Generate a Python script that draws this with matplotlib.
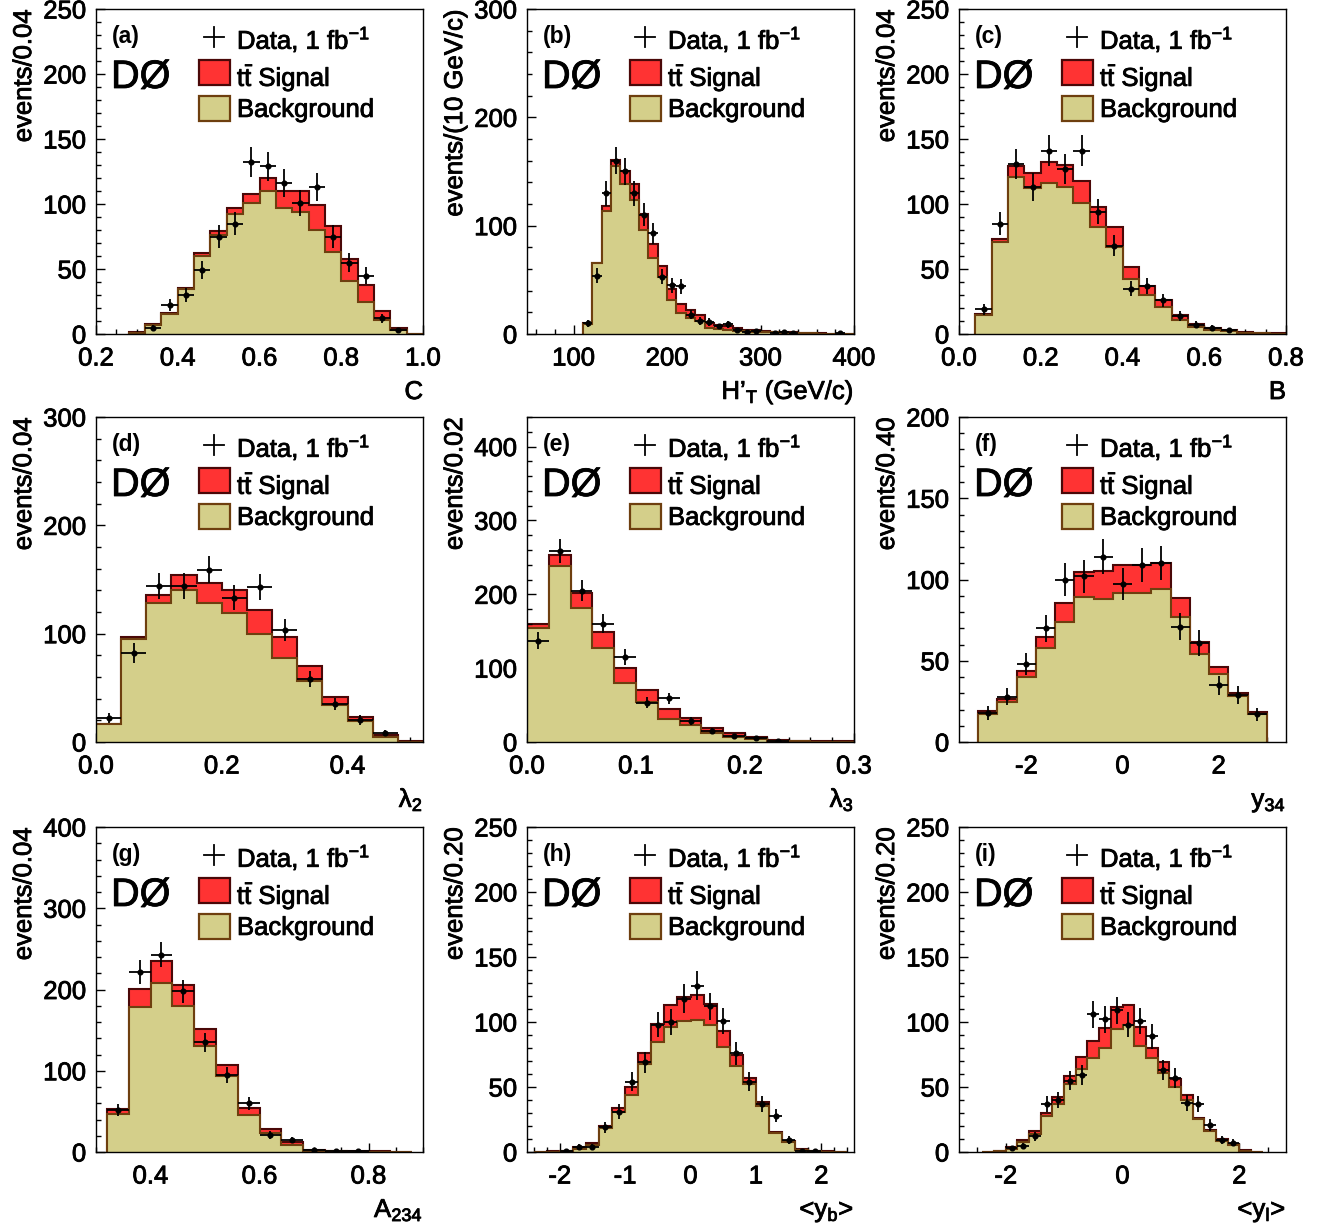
import numpy as np
import matplotlib
matplotlib.use('Agg')
import matplotlib.pyplot as plt
import matplotlib.patheffects as pe
from matplotlib.patches import Rectangle
from matplotlib.ticker import MultipleLocator, FormatStrFormatter

plt.rcParams['font.family'] = ['Liberation Sans', 'DejaVu Sans']
plt.rcParams['mathtext.fontset'] = 'custom'
plt.rcParams['mathtext.rm'] = 'Liberation Sans'
plt.rcParams['mathtext.it'] = 'Liberation Sans:italic'
plt.rcParams['mathtext.bf'] = 'Liberation Sans:bold'
plt.rcParams['axes.unicode_minus'] = False

# ---- (a) C ----
bg_a = [1, 7, 15.5, 35, 60, 76, 92, 101, 110, 97, 94, 80, 63, 41, 25, 10.5, 3, 0]
tot_a = [1.5, 8, 16, 35.5, 62, 79, 97, 108, 120, 110, 110, 99, 83, 58, 38, 17.5, 4.6, 0]
data_a = [0, 5, 22, 30, 49, 75, 85, 132, 129, 116, 101, 113, 75, 55, 45, 12, 3, 0]

# ---- (b) H'T ----
bg_b = [9.5, 65.5, 114, 155.5, 138, 124, 96, 70, 53, 31, 19, 15, 12, 5.5, 4.6, 4, 3,
        2.5, 2, 1.8, 1.5, 1.2, 1.0, 0.8, 0.6, 0.3, 0.3, 0.2, 0.2]
tot_b = [10, 66, 118, 161, 150, 138, 111, 83, 63, 42, 28, 22, 18, 10, 8.6, 7, 5.5,
         4, 3.4, 2.8, 2.2, 1.8, 1.5, 1.2, 1.0, 0.5, 0.4, 0.3, 0.3]
data_b = [10, 54, 130, 160, 150, 130, 110, 93, 53, 45, 44, 18, 12, 11, 7, 9, 4,
          2, 3, 0, 1, 2, 1, 0, 0, 0, 0, 1, 0]

# ---- (c) B ----
bg_c = [15, 70.5, 121, 112, 116, 113, 101, 82, 67, 42, 30, 21, 11, 5.4, 3.3, 2, 1, 0.5, 0.3]
tot_c = [15.4, 73, 129.6, 124, 132, 130, 118, 98, 82, 51.5, 37, 26.4, 15, 7.7, 4.6, 2.8, 1.5, 0.8, 0.5]
data_c = [19, 85, 131, 113, 141, 127, 141, 94, 68, 35, 37, 26, 14, 7, 5, 3, 0, 0, 0]

# ---- (d) lambda2 ----
bg_d = [16.3, 95, 128, 140, 128, 119, 100, 78, 56, 34, 19, 4.6, 0.3]
tot_d = [17, 96.6, 136, 154, 147, 140, 121.5, 97, 70.5, 42, 23, 6.7, 0.5]
data_d = [22, 82, 144, 144, 159, 133, 143, 103, 58, 35, 20, 8, 0]

# ---- (e) lambda3 ----
bg_e = [155, 238.7, 181.5, 126.6, 80, 54, 31.5, 22.5, 12.6, 6.8, 4.5, 1.8, 1, 0.6, 0.5]
tot_e = [160, 253.6, 202, 148.6, 100.5, 71, 45, 32.4, 19, 12, 6.8, 3, 1.5, 1, 0.8]
data_e = [137, 259, 205, 160, 115, 53, 59, 28, 15, 8, 5, 2, 0, 0, 0]

# ---- (f) y34 ----
bg_f = [17, 24.5, 39.7, 57.7, 73.6, 89, 88, 91.6, 91.6, 94, 77, 54, 42, 28.6, 17.4]
tot_f = [18.8, 26.6, 43.6, 64.8, 85.3, 104.7, 105, 108.8, 108.8, 110, 88.8, 61.8, 46, 30, 18.4]
data_f = [18, 28, 48, 70, 100, 102, 114, 97, 109, 110, 71, 61, 35, 29, 17]

# ---- (g) A234 ----
bg_g = [47.3, 178.8, 207.6, 179.6, 130.3, 93.3, 45.2, 23.4, 8.2, 1.6, 1, 0.6, 0.5, 0.3]
tot_g = [53.4, 200.6, 235, 206, 151, 107, 54.3, 28, 12.3, 2.9, 1.5, 1, 0.7, 0.4]
data_g = [52, 222, 243, 198, 135, 95, 60, 21, 15, 3, 1, 1, 0, 0]

# ---- (h) <y_b> ----
bg_h = [0.2, 0.3, 0.8, 2.6, 5.6, 18.5, 30.8, 43.7, 68, 84.8, 95.8, 100.7, 101.5, 97.9,
        80.4, 66.5, 52.2, 35.5, 14.6, 7.7, 1.5, 0.6, 0.3, 0.2]
tot_h = [0.3, 0.4, 1, 3.9, 7, 20, 34, 50, 76.3, 98.4, 112.8, 119.5, 120.5, 113.6,
         93.3, 74.5, 57.3, 38.5, 15.2, 8.7, 2, 0.8, 0.4, 0.3]
data_h = [0, 0, 1, 4, 4, 19, 31, 54, 69, 98, 100, 118, 128, 112, 101, 76, 54, 37,
          28, 9, 1, 1, 0, 0]

# ---- (i) <y_l> ----
bg_i = [0.2, 0.8, 2.6, 7.7, 14, 27.5, 37.3, 52, 63.7, 72.5, 79.7, 94.5, 97.9, 81.7,
        72.5, 61, 50, 40.3, 25.2, 16, 8.5, 5.1, 0.9, 0.2]
tot_i = [0.3, 1, 3.9, 9, 16, 30, 42, 58.6, 73, 85.6, 95.6, 111.8, 113, 96.3, 79.7,
         69.4, 55.8, 44, 26, 16.7, 9.8, 6.4, 1.3, 0.3]
data_i = [0, 0, 3, 5, 12, 37, 40, 55, 59, 106, 102, 109, 98, 101, 89, 63, 57, 38,
          37, 21, 9, 7, 0, 0]

panels = [
    dict(tag='(a)', lo=0.28, w=0.04, bg=bg_a, tot=tot_a, data=data_a, xlim=(0.2, 1.0), ylim=(0, 250),
         xt=(0.2, 0.05), yt=(50, 10), xfmt='%.1f', ylab='events/0.04', xlab='C'),
    dict(tag='(b)', lo=110, w=10, bg=bg_b, tot=tot_b, data=data_b, xlim=(50, 400), ylim=(0, 300),
         xt=(100, 20), yt=(100, 20), xfmt='%d', ylab='events/(10 GeV/c)', xlab='H\u2019$_{\\mathrm{T}}$ (GeV/c)'),
    dict(tag='(c)', lo=0.04, w=0.04, bg=bg_c, tot=tot_c, data=data_c, xlim=(0.0, 0.8), ylim=(0, 250),
         xt=(0.2, 0.05), yt=(50, 10), xfmt='%.1f', ylab='events/0.04', xlab='B'),
    dict(tag='(d)', lo=0.0, w=0.04, bg=bg_d, tot=tot_d, data=data_d, xlim=(0.0, 0.52), ylim=(0, 300),
         xt=(0.2, 0.05), yt=(100, 20), xfmt='%.1f', ylab='events/0.04', xlab='$\\mathrm{λ_{2}}$'),
    dict(tag='(e)', lo=0.0, w=0.02, bg=bg_e, tot=tot_e, data=data_e, xlim=(0.0, 0.3), ylim=(0, 440),
         xt=(0.1, 0.02), yt=(100, 20), xfmt='%.1f', ylab='events/0.02', xlab='$\\mathrm{λ_{3}}$'),
    dict(tag='(f)', lo=-3.0, w=0.4, bg=bg_f, tot=tot_f, data=data_f, xlim=(-3.4, 3.4), ylim=(0, 200),
         xt=(2, 0.5), yt=(50, 10), xfmt='%d', ylab='events/0.40', xlab='$\\mathrm{y_{34}}$'),
    dict(tag='(g)', lo=0.32, w=0.04, bg=bg_g, tot=tot_g, data=data_g, xlim=(0.3, 0.9), ylim=(0, 400),
         xt=(0.2, 0.05), yt=(100, 20), xfmt='%.1f', ylab='events/0.04', xlab='$\\mathrm{A_{234}}$'),
    dict(tag='(h)', lo=-2.4, w=0.2, bg=bg_h, tot=tot_h, data=data_h, xlim=(-2.5, 2.5), ylim=(0, 250),
         xt=(1, 0.2), yt=(50, 10), xfmt='%d', ylab='events/0.20', xlab='<$\\mathrm{y_{b}}$>'),
    dict(tag='(i)', lo=-2.4, w=0.2, bg=bg_i, tot=tot_i, data=data_i, xlim=(-2.8, 2.8), ylim=(0, 250),
         xt=(2, 0.5), yt=(50, 10), xfmt='%d', ylab='events/0.20', xlab='<$\\mathrm{y_{l}}$>'),
]

RED = '#ff3333'
RED_EDGE = '#4a0808'
TAN = '#d4cf8a'
TAN_EDGE = '#6e3f0f'

# slightly heavier glyphs, like the original rendering
heavy = [pe.withStroke(linewidth=0.6, foreground='k')]

W, H = 1331, 1228
fig = plt.figure(figsize=(W / 100, H / 100), dpi=100)

col_x = [96, 527, 959]
row_top = [9, 417, 827]
aw, ah = 327, 325

for k, p in enumerate(panels):
    r, c = divmod(k, 3)
    ax = fig.add_axes([col_x[c] / W, 1 - (row_top[r] + ah) / H, aw / W, ah / H])

    n = len(p['bg'])
    edges = p['lo'] + p['w'] * np.arange(n + 1)
    centers = edges[:-1] + p['w'] / 2
    bg = np.array(p['bg'], float)
    tot = np.array(p['tot'], float)
    data = np.array(p['data'], float)

    ax.stairs(tot, edges, fill=True, facecolor=RED, edgecolor=RED_EDGE, linewidth=1.5, zorder=1)
    ax.stairs(bg, edges, fill=True, facecolor=TAN, edgecolor=TAN_EDGE, linewidth=1.5, zorder=2)

    m = data > 0
    ax.errorbar(centers[m], data[m], yerr=np.sqrt(data[m]), xerr=p['w'] / 2, fmt='o',
                ms=3.4, color='k', ecolor='k', elinewidth=1.3, capsize=0, zorder=4)

    ax.set_xlim(*p['xlim'])
    ax.set_ylim(*p['ylim'])
    ax.xaxis.set_major_locator(MultipleLocator(p['xt'][0]))
    ax.xaxis.set_minor_locator(MultipleLocator(p['xt'][1]))
    ax.yaxis.set_major_locator(MultipleLocator(p['yt'][0]))
    ax.yaxis.set_minor_locator(MultipleLocator(p['yt'][1]))
    ax.xaxis.set_major_formatter(FormatStrFormatter(p['xfmt']))
    ax.yaxis.set_major_formatter(FormatStrFormatter('%d'))
    ax.tick_params(which='both', direction='in', top=False, right=False, labelsize=18.5, width=1)
    ax.tick_params(which='major', length=6.5)
    ax.tick_params(which='minor', length=3.6)
    ax.tick_params(axis='y', pad=7)
    ax.tick_params(axis='x', pad=9)
    for s in ax.spines.values():
        s.set_linewidth(1)
    for lab in ax.get_xticklabels() + ax.get_yticklabels():
        lab.set_path_effects(heavy)

    tr = ax.transAxes
    ax.text(-0.22, 1.0, p['ylab'], rotation=90, ha='center', va='top', fontsize=18.5,
            transform=tr, path_effects=heavy)
    ax.text(1.0, -0.2, p['xlab'], ha='right', va='baseline', fontsize=18.5,
            transform=tr, path_effects=heavy)

    ax.text(0.049, 0.895, p['tag'], ha='left', va='baseline', fontsize=16.5, fontweight='bold',
            transform=tr)
    ax.text(0.046, 0.757, 'D\u00d8', ha='left', va='baseline', fontsize=28.5, transform=tr,
            path_effects=heavy)

    # legend
    cx, cy = 0.361, 0.914
    ax.plot([cx - 0.031, cx + 0.031], [cy, cy], color='k', lw=1.3, transform=tr, clip_on=False)
    ax.plot([cx, cx], [cy - 0.032, cy + 0.032], color='k', lw=1.3, transform=tr, clip_on=False)
    ax.add_patch(Rectangle((0.315, 0.766), 0.095, 0.077, facecolor=RED, edgecolor=RED_EDGE,
                           lw=1.6, transform=tr, clip_on=False, zorder=5))
    ax.add_patch(Rectangle((0.315, 0.655), 0.095, 0.077, facecolor=TAN, edgecolor=TAN_EDGE,
                           lw=1.6, transform=tr, clip_on=False, zorder=5))
    ax.text(0.431, 0.877, 'Data, 1 fb$^{\\mathrm{-1}}$', ha='left', va='baseline', fontsize=18.5,
            transform=tr, path_effects=heavy)
    ax.text(0.431, 0.763, '$\\mathrm{t\\bar{t}}$ Signal', ha='left', va='baseline', fontsize=18.5,
            transform=tr, path_effects=heavy)
    ax.text(0.431, 0.668, 'Background', ha='left', va='baseline', fontsize=18.5,
            transform=tr, path_effects=heavy)

fig.savefig('out.png', dpi=100)
